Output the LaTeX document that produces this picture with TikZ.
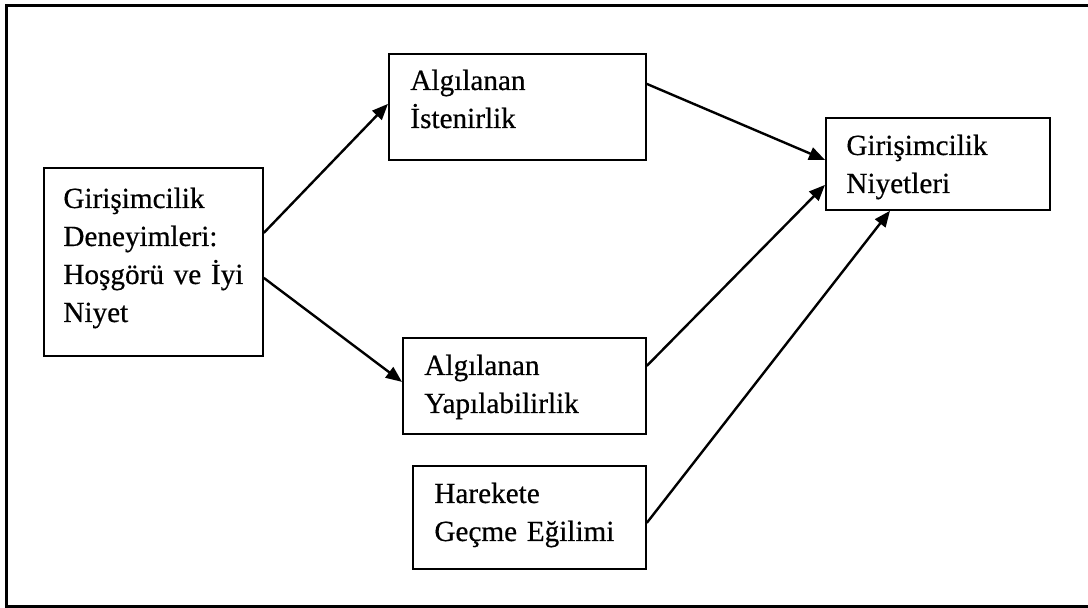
\documentclass[tikz,border=0pt]{standalone}
\usepackage{fontspec}
\setmainfont{Liberation Serif}[FakeBold=0.5]
\usetikzlibrary{arrows.meta}
\begin{document}
\begin{tikzpicture}[x=0.5pt,y=-0.5pt,
  box/.style={draw, line width=0.9pt, inner sep=0pt, anchor=north west},
  txt/.style={inner sep=0pt, anchor=base west, align=left, text width=130pt,
    font=\fontsize{14.6}{19}\selectfont},
  conn/.style={line width=1.2pt, -{Triangle[length=8pt,width=6.5pt]}}]
\useasboundingbox (0,0) rectangle (1088,608);
\draw[line width=1.1pt] (6.5,5.5) rectangle (1090,606.5);
% boxes
\node[box, minimum width=109.5pt, minimum height=94pt] (exp) at (43,167) {};
\node[box, minimum width=128.5pt, minimum height=53pt] (ist) at (388,53) {};
\node[box, minimum width=121.5pt, minimum height=48pt] (yap) at (402,337) {};
\node[box, minimum width=116.5pt, minimum height=51.5pt] (har) at (412,465) {};
\node[box, minimum width=112pt, minimum height=46pt] (niy) at (825,117) {};
% texts
\node[txt] (expt) at (63,208) {Girişimcilik\\Deneyimleri:\\Hoşgörü ve İyi\\Niyet};
\node[txt] (istt) at (410,90) {Algılanan\\İstenirlik};
\node[txt] (yapt) at (424,375) {Algılanan\\Yapılabilirlik};
\node[txt] (hart) at (434,503) {Harekete\\Geçme Eğilimi};
\node[txt] (niyt) at (846,155) {Girişimcilik\\Niyetleri};
% connectors
\draw[conn] ([shift={(0,-29)}]exp.east) -- ([shift={(0,-3)}]ist.west);
\draw[conn] ([shift={(0,16)}]exp.east) -- ([shift={(0,-4)}]yap.west);
\draw[conn] ([shift={(0,-23)}]ist.east) -- ([shift={(0,-4)}]niy.west);
\draw[conn] ([shift={(0,-20)}]yap.east) -- ([shift={(0,21)}]niy.west);
\draw[conn] ([shift={(0,5.5)}]har.east) -- ([shift={(65,0)}]niy.south west);
\end{tikzpicture}
\end{document}
